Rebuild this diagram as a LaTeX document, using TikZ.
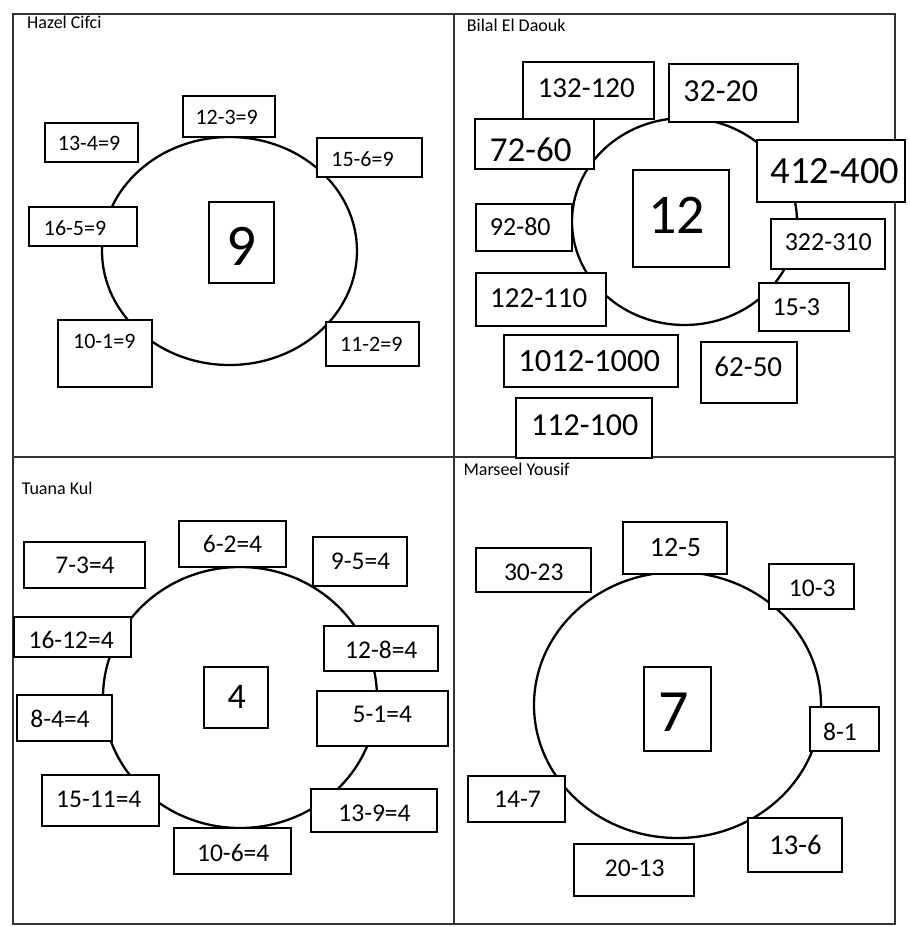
\documentclass[tikz,border=0pt]{standalone}
\usepackage{fontspec}
\setmainfont{Carlito}
\usetikzlibrary{shapes.geometric}
\newcommand{\pSize}[1]{\fontsize{#1}{#1}\selectfont}

\begin{document}
\begin{tikzpicture}[x=1pt,y=-1pt,
  card/.style={draw, fill=white, line width=1.2pt, inner sep=0pt},
  ring/.style={draw, ellipse, line width=2.3pt, inner sep=0pt},
  eq/.style={anchor=base, inner sep=0pt},
  who/.style={anchor=base west, inner sep=0pt, font=\pSize{18}},
  frame/.style={draw=black!80, line width=1.3pt}]
\useasboundingbox (0,0) rectangle (910,927);
\draw[frame] (13,14) rectangle (895,924);
\draw[frame] (454,14) -- (454,924);
\draw[frame] (13,457) -- (895,457);
\node[who] (hcName) at (27,28) {Hazel Cifci};
\node[ring, minimum width=255pt, minimum height=228pt] (hcRing) at (229.5,251) {};
\node[card, minimum width=65pt, minimum height=81pt] (hcMid) at (241.5,242.5) {};
\node[eq, font=\pSize{59}] (hcMidt) at (241.7,265) {9};
\node[card, minimum width=92pt, minimum height=41pt] (hc1) at (229,116.5) {};
\node[eq, font=\pSize{22}] (hc1t) at (226.7,124) {12-3=9};
\node[card, minimum width=93pt, minimum height=39pt] (hc2) at (91.5,142.5) {};
\node[eq, font=\pSize{22}] (hc2t) at (89,150.7) {13-4=9};
\node[card, minimum width=105pt, minimum height=39pt] (hc3) at (369.5,157.5) {};
\node[eq, font=\pSize{22}] (hc3t) at (362.5,166.7) {15-6=9};
\node[card, minimum width=108pt, minimum height=39pt] (hc4) at (83,226.5) {};
\node[eq, font=\pSize{22}] (hc4t) at (75,235) {16-5=9};
\node[card, minimum width=94pt, minimum height=67pt] (hc5) at (105,353.5) {};
\node[eq, font=\pSize{22}] (hc5t) at (104.3,348.3) {10-1=9};
\node[card, minimum width=93pt, minimum height=44pt] (hc6) at (372.5,344) {};
\node[eq, font=\pSize{22}] (hc6t) at (371.3,351.7) {11-2=9};
\node[who] (bdName) at (466.7,31) {Bilal El Daouk};
\node[ring, minimum width=225pt, minimum height=207pt] (bdRing) at (684.5,221.5) {};
\node[card, minimum width=96pt, minimum height=97pt] (bdMid) at (681,218.5) {};
\node[eq, font=\pSize{56}] (bdMidt) at (676.7,233.3) {12};
\node[card, minimum width=131pt, minimum height=57pt] (bd1) at (588.5,90.5) {};
\node[eq, font=\pSize{29}] (bd1t) at (586.3,97.3) {132-120};
\node[card, minimum width=129pt, minimum height=58pt] (bd2) at (733.5,93) {};
\node[eq, font=\pSize{32}] (bd2t) at (720.8,101.7) {32-20};
\node[card, minimum width=119pt, minimum height=50pt] (bd3) at (534.5,144) {};
\node[eq, font=\pSize{35}] (bd3t) at (530.8,161) {72-60};
\node[card, minimum width=148pt, minimum height=62pt] (bd4) at (831,171) {};
\node[eq, font=\pSize{38.5}] (bd4t) at (835,183.3) {412-400};
\node[card, minimum width=96pt, minimum height=47pt] (bd5) at (524,227.5) {};
\node[eq, font=\pSize{26}] (bd5t) at (520.3,235.7) {92-80};
\node[card, minimum width=114pt, minimum height=50pt] (bd6) at (828,244) {};
\node[eq, font=\pSize{26}] (bd6t) at (828.3,250.7) {322-310};
\node[card, minimum width=130pt, minimum height=53pt] (bd7) at (541,299.5) {};
\node[eq, font=\pSize{29}] (bd7t) at (538.7,307.3) {122-110};
\node[card, minimum width=90pt, minimum height=48pt] (bd8) at (804,307) {};
\node[eq, font=\pSize{26}] (bd8t) at (796.3,315) {15-3};
\node[card, minimum width=174pt, minimum height=52pt] (bd9) at (591,361) {};
\node[eq, font=\pSize{32.5}] (bd9t) at (589.2,371.7) {1012-1000};
\node[card, minimum width=96pt, minimum height=61pt] (bd10) at (749,372.5) {};
\node[eq, font=\pSize{29}] (bd10t) at (748.3,376.7) {62-50};
\node[card, minimum width=136pt, minimum height=60pt] (bd11) at (584,428) {};
\node[eq, font=\pSize{32}] (bd11t) at (584.7,435) {112-100};
\node[who] (tkName) at (21.7,494) {Tuana Kul};
\node[ring, minimum width=274pt, minimum height=261pt] (tkRing) at (240,697.5) {};
\node[card, minimum width=64pt, minimum height=61pt] (tkMid) at (236,697.5) {};
\node[eq, font=\pSize{36}] (tkMidt) at (236.7,708.3) {4};
\node[card, minimum width=107pt, minimum height=46pt] (tk1) at (232.5,544) {};
\node[eq, font=\pSize{25.5}] (tk1t) at (232.5,552.7) {6-2=4};
\node[card, minimum width=94pt, minimum height=49pt] (tk2) at (360,561.5) {};
\node[eq, font=\pSize{25.5}] (tk2t) at (360.5,569) {9-5=4};
\node[card, minimum width=121pt, minimum height=46pt] (tk3) at (84.5,565) {};
\node[eq, font=\pSize{25.5}] (tk3t) at (85,573.3) {7-3=4};
\node[card, minimum width=117pt, minimum height=40pt] (tk4) at (72.5,637) {};
\node[eq, font=\pSize{25.5}] (tk4t) at (71.2,648.3) {16-12=4};
\node[card, minimum width=114pt, minimum height=45pt] (tk5) at (381,648.5) {};
\node[eq, font=\pSize{25.5}] (tk5t) at (381.3,658.3) {12-8=4};
\node[card, minimum width=95pt, minimum height=46pt] (tk6) at (64.5,718) {};
\node[eq, font=\pSize{25.5}] (tk6t) at (60,727.3) {8-4=4};
\node[card, minimum width=131pt, minimum height=55pt] (tk7) at (382.5,718.5) {};
\node[eq, font=\pSize{25.5}] (tk7t) at (382.3,722.3) {5-1=4};
\node[card, minimum width=117pt, minimum height=51pt] (tk8) at (100.5,800.5) {};
\node[eq, font=\pSize{25.5}] (tk8t) at (98.8,807.3) {15-11=4};
\node[card, minimum width=126pt, minimum height=43pt] (tk9) at (374,810.5) {};
\node[eq, font=\pSize{25.5}] (tk9t) at (374.5,821.7) {13-9=4};
\node[card, minimum width=117pt, minimum height=46pt] (tk10) at (232.5,851) {};
\node[eq, font=\pSize{25.5}] (tk10t) at (233.2,861) {10-6=4};
\node[who] (myName) at (463.3,475.7) {Marseel Yousif};
\node[ring, minimum width=287pt, minimum height=266pt] (myRing) at (677.5,705) {};
\node[card, minimum width=67pt, minimum height=84pt] (myMid) at (677.5,709) {};
\node[eq, font=\pSize{60}] (myMidt) at (673.8,731.7) {7};
\node[card, minimum width=104pt, minimum height=52pt] (my1) at (675,548) {};
\node[eq, font=\pSize{28}] (my1t) at (675.5,556) {12-5};
\node[card, minimum width=115pt, minimum height=44pt] (my2) at (533.5,570) {};
\node[eq, font=\pSize{25.5}] (my2t) at (533.8,580) {30-23};
\node[card, minimum width=85pt, minimum height=45pt] (my3) at (811.5,586.5) {};
\node[eq, font=\pSize{25.5}] (my3t) at (812.2,596.7) {10-3};
\node[card, minimum width=69pt, minimum height=44pt] (my4) at (844.5,729) {};
\node[eq, font=\pSize{25.5}] (my4t) at (840,740) {8-1};
\node[card, minimum width=97pt, minimum height=46pt] (my5) at (516.5,799) {};
\node[eq, font=\pSize{25.5}] (my5t) at (517.5,807.7) {14-7};
\node[card, minimum width=94pt, minimum height=54pt] (my6) at (795,845) {};
\node[eq, font=\pSize{28.5}] (my6t) at (795.5,854) {13-6};
\node[card, minimum width=120pt, minimum height=52pt] (my7) at (634,870) {};
\node[eq, font=\pSize{25.5}] (my7t) at (634.7,876.7) {20-13};
\end{tikzpicture}
\end{document}
